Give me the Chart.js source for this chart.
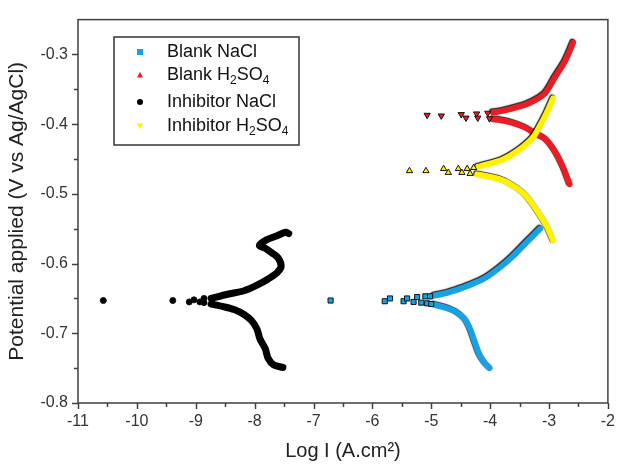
<!DOCTYPE html>
<html>
<head>
<meta charset="utf-8">
<script src="https://cdn.jsdelivr.net/npm/chart.js@4.4.0/dist/chart.umd.min.js"></script>
<style>
  html, body { margin: 0; padding: 0; background: #fff; }
  #wrap { width: 624px; height: 468px; }
</style>
</head>
<body>
<div id="wrap"><canvas id="chartCanvas" width="624" height="468"></canvas></div>
<script>
// axis ticks
const xTicks = [-11, -10, -9, -8, -7, -6, -5, -4, -3, -2];
const yTicks = [-0.8, -0.7, -0.6, -0.5, -0.4, -0.3];

// Blank NaCl
const blankNaclX = [-6.71, -5.79, -5.70, -5.47, -5.41, -5.30, -5.24, -5.17, -5.10, -5.02, -5.07, -5.00];
const blankNaclY = [-0.653, -0.654, -0.650, -0.654, -0.650, -0.655, -0.648, -0.656, -0.647, -0.647, -0.657, -0.658];
const blankNaclAnodicX = [-4.95, -4.73, -4.51, -4.29, -4.07, -3.84, -3.62, -3.40, -3.15];
const blankNaclAnodicY = [-0.646, -0.642, -0.636, -0.629, -0.620, -0.606, -0.590, -0.571, -0.550];
const blankNaclCathodicX = [-4.95, -4.73, -4.57, -4.43, -4.34, -4.26, -4.18, -4.09, -4.01];
const blankNaclCathodicY = [-0.659, -0.664, -0.670, -0.680, -0.694, -0.713, -0.731, -0.743, -0.750];

// Blank H2SO4
const blankAcidX = [-5.07, -4.83, -4.49, -4.41, -4.23, -4.21, -4.04, -4.01];
const blankAcidY = [-0.387, -0.388, -0.386, -0.391, -0.385, -0.391, -0.384, -0.392];
const blankAcidAnodicX = [-3.95, -3.79, -3.51, -3.29, -3.07, -2.90, -2.73, -2.59];
const blankAcidAnodicY = [-0.383, -0.381, -0.375, -0.368, -0.356, -0.333, -0.310, -0.283];
const blankAcidCathodicX = [-3.95, -3.84, -3.62, -3.40, -3.23, -3.07, -2.90, -2.76, -2.65];
const blankAcidCathodicY = [-0.393, -0.394, -0.398, -0.405, -0.414, -0.421, -0.439, -0.462, -0.486];

// Inhibitor NaCl
const inhNaclX = [-10.57, -9.39, -9.11, -9.03, -8.93, -8.86, -8.86];
const inhNaclY = [-0.653, -0.653, -0.655, -0.652, -0.655, -0.650, -0.656];
const inhNaclAnodicX = [-8.74, -8.46, -8.18, -7.96, -7.77, -7.62, -7.55, -7.60, -7.70, -7.82, -7.92, -7.80, -7.62, -7.47, -7.42];
const inhNaclAnodicY = [-0.650, -0.644, -0.639, -0.631, -0.622, -0.613, -0.604, -0.592, -0.585, -0.578, -0.574, -0.566, -0.560, -0.555, -0.557];
const inhNaclCathodicX = [-8.74, -8.52, -8.35, -8.18, -8.05, -7.96, -7.91, -7.82, -7.77, -7.68, -7.52];
const inhNaclCathodicY = [-0.658, -0.662, -0.666, -0.673, -0.682, -0.694, -0.708, -0.722, -0.736, -0.745, -0.749];

// Inhibitor H2SO4
const inhAcidX = [-5.37, -5.09, -4.79, -4.71, -4.54, -4.48, -4.39, -4.34, -4.28];
const inhAcidY = [-0.467, -0.467, -0.464, -0.4695, -0.464, -0.4695, -0.464, -0.471, -0.4625];
const inhAcidAnodicX = [-4.20, -4.07, -3.79, -3.51, -3.29, -3.15, -3.04, -2.93];
const inhAcidAnodicY = [-0.461, -0.458, -0.451, -0.437, -0.421, -0.402, -0.384, -0.363];
const inhAcidCathodicX = [-4.22, -3.84, -3.62, -3.40, -3.18, -3.04, -2.93];
const inhAcidCathodicY = [-0.472, -0.479, -0.488, -0.502, -0.527, -0.546, -0.567];

const BLUE = '#19a2e3', RED = '#ec1c24', BLACK = '#000000', YELLOW = '#fff200';
const FONT = "'Liberation Sans', Arial, sans-serif";

function pts(xs, ys) { return xs.map((x, i) => ({ x: x, y: ys[i] })); }

function markers(xs, ys, color, style, rot, r, order) {
    return {
        data: pts(xs, ys), showLine: false,
        pointStyle: style, rotation: rot, pointRadius: r,
        backgroundColor: color, borderColor: '#111', borderWidth: 1,
        order: order
    };
}
function band(xs, ys, color, width, order) {
    return {
        data: pts(xs, ys), showLine: true, band: true,
        borderColor: color, borderWidth: width, pointRadius: 0,
        tension: 0.3,
        borderCapStyle: 'round', borderJoinStyle: 'round',
        fill: false, order: order
    };
}

const legendItems = [
    { label: ['Blank NaCl'], color: BLUE, style: 'rect', rot: 0, y: 52 },
    { label: ['Blank H', '2', 'SO', '4'], color: RED, style: 'triangle', rot: 0, y: 75 },
    { label: ['Inhibitor NaCl'], color: BLACK, style: 'circle', rot: 0, y: 102 },
    { label: ['Inhibitor H', '2', 'SO', '4'], color: YELLOW, style: 'triangle', rot: 180, y: 126 }
];

function drawMarker(ctx, style, rot, x, y, r) {
    ctx.save();
    ctx.translate(x, y);
    ctx.rotate(rot * Math.PI / 180);
    ctx.beginPath();
    if (style === 'rect') {
        ctx.rect(-r, -r, 2 * r, 2 * r);
    } else if (style === 'triangle') {
        ctx.moveTo(0, -r * 1.1);
        ctx.lineTo(r, r * 0.8);
        ctx.lineTo(-r, r * 0.8);
        ctx.closePath();
    } else {
        ctx.arc(0, 0, r, 0, Math.PI * 2);
    }
    ctx.fill();
    ctx.restore();
}

const framePlugin = {
    id: 'frame',
    beforeDatasetDraw(chart, args) {
        const ds = chart.data.datasets[args.index];
        if (ds.band && ds.borderColor !== BLACK) {
            const ctx = chart.ctx;
            ctx.save();
            ctx.shadowColor = 'rgba(0,0,0,0.85)';
            ctx.shadowBlur = 1;
            ctx.shadowOffsetX = -1;
            ctx.shadowOffsetY = -1;
        }
    },
    afterDatasetDraw(chart, args) {
        const ds = chart.data.datasets[args.index];
        if (ds.band && ds.borderColor !== BLACK) chart.ctx.restore();
    },
    afterDraw(chart) {
        const ctx = chart.ctx;
        const a = chart.chartArea;
        const xs = chart.scales.x, ys = chart.scales.y;
        ctx.save();
        ctx.strokeStyle = '#404040';
        ctx.lineWidth = 1.5;
        ctx.strokeRect(a.left, a.top, a.right - a.left, a.bottom - a.top);
        ctx.beginPath();
        for (let v = xs.min; v <= xs.max + 1e-9; v += 0.5) {
            const px = Math.round(xs.getPixelForValue(v)) + 0.5;
            const major = Math.abs(v - Math.round(v)) < 1e-6;
            ctx.moveTo(px, a.bottom);
            ctx.lineTo(px, a.bottom + (major ? 6 : 4));
        }
        for (let v = ys.min; v <= -0.3 + 1e-9; v += 0.05) {
            const py = Math.round(ys.getPixelForValue(v)) + 0.5;
            const major = Math.abs(v * 10 - Math.round(v * 10)) < 1e-6;
            ctx.moveTo(a.left, py);
            ctx.lineTo(a.left - (major ? 6 : 4), py);
        }
        ctx.stroke();

        // legend
        const bx = 114, by = 37, bw = 185, bh = 108;
        ctx.fillStyle = '#fff';
        ctx.fillRect(bx, by, bw, bh);
        ctx.strokeStyle = '#333';
        ctx.lineWidth = 1.5;
        ctx.strokeRect(bx, by, bw, bh);
        ctx.textBaseline = 'middle';
        ctx.textAlign = 'left';
        legendItems.forEach(item => {
            ctx.fillStyle = item.color;
            drawMarker(ctx, item.style, item.rot, 140, item.y, 3);
            let x = 167;
            ctx.fillStyle = '#111';
            item.label.forEach((part, i) => {
                const sub = i % 2 === 1;
                ctx.font = (sub ? '12px ' : '18px ') + FONT;
                ctx.fillText(part, x, item.y + (sub ? 6 : 0));
                x += ctx.measureText(part).width;
            });
        });
        ctx.restore();
    }
};

const ctx = document.getElementById('chartCanvas').getContext('2d');
const chart = new Chart(ctx, {
    type: 'scatter',
    data: {
        datasets: [
            band(blankNaclAnodicX, blankNaclAnodicY, BLUE, 6, 8),
            band(blankNaclCathodicX, blankNaclCathodicY, BLUE, 6, 8),
            markers(blankNaclX, blankNaclY, BLUE, 'rect', 0, 3.6, 7),
            band(blankAcidAnodicX, blankAcidAnodicY, RED, 6, 6),
            band(blankAcidCathodicX, blankAcidCathodicY, RED, 6, 6),
            markers(blankAcidX, blankAcidY, RED, 'triangle', 180, 3.6, 5),
            band(inhNaclAnodicX, inhNaclAnodicY, BLACK, 7, 4),
            band(inhNaclCathodicX, inhNaclCathodicY, BLACK, 7, 4),
            markers(inhNaclX, inhNaclY, BLACK, 'circle', 0, 3, 3),
            band(inhAcidAnodicX, inhAcidAnodicY, YELLOW, 6, 2),
            band(inhAcidCathodicX, inhAcidCathodicY, YELLOW, 6, 2),
            markers(inhAcidX, inhAcidY, YELLOW, 'triangle', 0, 3.6, 1)
        ]
    },
    options: {
        responsive: false,
        animation: false,
        layout: { padding: { top: 10, right: 7, left: 0, bottom: 0 } },
        plugins: { legend: { display: false }, tooltip: { enabled: false } },
        scales: {
            x: {
                type: 'linear', position: 'bottom',
                min: xTicks[0], max: xTicks[xTicks.length - 1],
                afterFit: s => { s.height = 65; },
                afterBuildTicks: s => { s.ticks = xTicks.map(v => ({ value: v })); },
                grid: { display: false, drawTicks: false },
                border: { display: false },
                ticks: { padding: 9, color: '#333', font: { family: FONT, size: 16 }, callback: v => String(v) },
                title: { display: true, text: 'Log I (A.cm²)', color: '#222',
                         font: { family: FONT, size: 20 }, padding: { top: 0, bottom: 5 } }
            },
            y: {
                type: 'linear', position: 'left',
                min: yTicks[0], max: -0.25,
                afterFit: s => { s.width = 78; },
                afterBuildTicks: s => { s.ticks = yTicks.map(v => ({ value: v })); },
                grid: { display: false, drawTicks: false },
                border: { display: false },
                ticks: { padding: 10, color: '#333', font: { family: FONT, size: 16 }, callback: v => v.toFixed(1) },
                title: { display: true, text: 'Potential applied (V vs Ag/AgCl)', color: '#222',
                         font: { family: FONT, size: 21 }, padding: { top: 5, bottom: 0 } }
            }
        }
    },
    plugins: [framePlugin]
});
</script>
</body>
</html>
